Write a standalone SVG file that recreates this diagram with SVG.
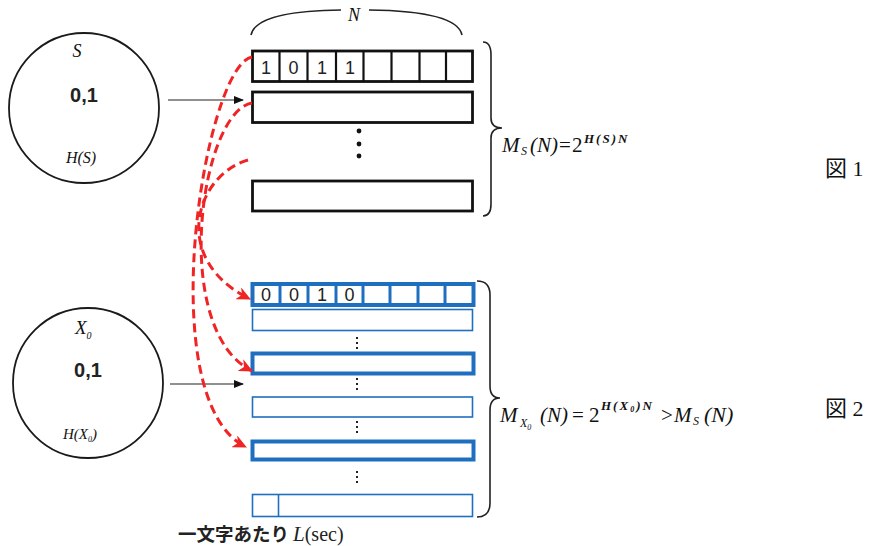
<svg xmlns="http://www.w3.org/2000/svg" width="872" height="546" viewBox="0 0 872 546">
<defs>
<style>
.bg{fill:#ffffff}
.circ{fill:none;stroke:#1a1a1a;stroke-width:1.8}
.brow{fill:#fff;stroke:#111;stroke-width:2.8}
.bk{fill:#fff;stroke:#1f6fc0;stroke-width:4}
.bt{fill:#fff;stroke:#1f6fc0;stroke-width:1.6}
.cell{stroke:#111;stroke-width:2.2}
.bcell{stroke:#1f6fc0;stroke-width:3}
.red{fill:none;stroke:#f02424;stroke-width:3;stroke-dasharray:9,5}
.arr{fill:none;stroke:#222;stroke-width:1.2}
.brace{fill:none;stroke:#222;stroke-width:1.6}
.dig{font-family:"Liberation Sans",Arial,sans-serif;font-size:18px;fill:#222;text-anchor:middle}
.math{font-family:"Liberation Serif","Times New Roman",serif;font-style:italic;fill:#111}
.up{font-family:"Liberation Serif","Times New Roman",serif;fill:#111}
.sup{font-family:"Liberation Serif","Times New Roman",serif;font-style:italic;font-weight:bold;font-size:13px;letter-spacing:2px;fill:#111}
.bold{font-family:"Liberation Sans",Arial,sans-serif;font-weight:bold;font-size:20px;fill:#222;text-anchor:middle}
.fig{font-family:"Liberation Serif","Noto Sans CJK JP",serif;font-size:22px;fill:#111}
.dot{stroke:#222;stroke-width:2;stroke-dasharray:2,3}
</style>
<marker id="ra" markerUnits="userSpaceOnUse" markerWidth="15" markerHeight="13" refX="13" refY="6.5" orient="auto">
<path d="M0,0 L14,6.5 L0,13 L4,6.5 z" fill="#f02424"/>
</marker>
<marker id="ka" markerUnits="userSpaceOnUse" markerWidth="10" markerHeight="8" refX="9" refY="4" orient="auto">
<path d="M0,0 L10,4 L0,8 z" fill="#111"/>
</marker>
</defs>
<rect class="bg" x="0" y="0" width="872" height="546"/>

<g id="sourceS">
<circle class="circ" cx="84" cy="108" r="75"/>
<text class="math" x="77" y="57" font-size="18" text-anchor="middle">S</text>
<text class="bold" x="84" y="102">0,1</text>
<text class="math" x="81" y="163" font-size="16" text-anchor="middle">H(S)</text>
</g>

<g id="sourceX0">
<circle class="circ" cx="88" cy="383" r="75"/>
<text class="math" x="75" y="334" font-size="19">X<tspan font-size="10" dy="5">0</tspan></text>
<text class="bold" x="88" y="377">0,1</text>
<text class="math" x="63" y="439" font-size="15">H(X<tspan font-size="8" dy="3">0</tspan><tspan dy="-3">)</tspan></text>
</g>

<g id="topTable">
<rect class="brow" x="252.5" y="51" width="220" height="30.5"/>
<line class="cell" x1="279.5" y1="51" x2="279.5" y2="81.5"/>
<line class="cell" x1="307.5" y1="51" x2="307.5" y2="81.5"/>
<line class="cell" x1="336" y1="51" x2="336" y2="81.5"/>
<line class="cell" x1="363.5" y1="51" x2="363.5" y2="81.5"/>
<line class="cell" x1="391.5" y1="51" x2="391.5" y2="81.5"/>
<line class="cell" x1="419.5" y1="51" x2="419.5" y2="81.5"/>
<line class="cell" x1="446" y1="51" x2="446" y2="81.5"/>
<text class="dig" x="266" y="74">1</text>
<text class="dig" x="293.5" y="74">0</text>
<text class="dig" x="322" y="74">1</text>
<text class="dig" x="350" y="74">1</text>
<rect class="brow" x="252.5" y="92" width="220" height="30.5"/>
<circle cx="359" cy="131" r="2.4" fill="#111"/>
<circle cx="359" cy="144" r="2.4" fill="#111"/>
<circle cx="359" cy="156" r="2.4" fill="#111"/>
<rect class="brow" x="252.5" y="181" width="220" height="30"/>
</g>

<g id="braceN">
<path class="brace" d="M251,35 Q256,11 341,10"/>
<path class="brace" d="M369,10 Q457,11 462,35"/>
<text class="math" x="354" y="21" font-size="18" text-anchor="middle">N</text>
</g>

<g id="braceTop">
<path class="brace" d="M483,42 Q491,42 491,55 L491,118 Q491,128 502,128 Q491,128 491,138 L491,204 Q491,216 483,216"/>
<text class="math" x="502" y="152" font-size="21">M</text>
<text class="math" x="521" y="155" font-size="12">S</text>
<text class="math" x="530" y="152" font-size="21">(N)</text>
<text class="up" x="559" y="152" font-size="21">=</text>
<text class="up" x="572" y="152" font-size="21">2</text>
<text class="sup" x="584" y="143">H(S)N</text>
</g>

<g id="bottomTable">
<rect class="bk" x="252.5" y="284" width="221" height="21"/>
<line class="bcell" x1="280" y1="284" x2="280" y2="305"/>
<line class="bcell" x1="308" y1="284" x2="308" y2="305"/>
<line class="bcell" x1="336" y1="284" x2="336" y2="305"/>
<line class="bcell" x1="363" y1="284" x2="363" y2="305"/>
<line class="bcell" x1="390" y1="284" x2="390" y2="305"/>
<line class="bcell" x1="418" y1="284" x2="418" y2="305"/>
<line class="bcell" x1="445" y1="284" x2="445" y2="305"/>
<text class="dig" x="266" y="301">0</text>
<text class="dig" x="294" y="301">0</text>
<text class="dig" x="322" y="301">1</text>
<text class="dig" x="349.5" y="301">0</text>
<rect class="bt" x="252.5" y="309.5" width="220" height="21"/>
<line class="dot" x1="357" y1="337" x2="357" y2="351"/>
<rect class="bk" x="252.5" y="353.5" width="221" height="20"/>
<line class="dot" x1="357" y1="378" x2="357" y2="392"/>
<rect class="bt" x="252.5" y="397" width="220" height="20"/>
<line class="dot" x1="357" y1="421" x2="357" y2="435"/>
<rect class="bk" x="252.5" y="441.5" width="221" height="18"/>
<line class="dot" x1="357" y1="471" x2="357" y2="485"/>
<rect class="bt" x="252.5" y="494.5" width="220" height="22"/>
<line class="bt" x1="278.5" y1="494.5" x2="278.5" y2="516.5"/>
</g>

<g id="braceBottom">
<path class="brace" d="M477,281 Q490,281 490,295 L490,386 Q490,398 500,398 Q490,398 490,410 L490,503 Q490,517 477,517"/>
<text class="math" x="500" y="422" font-size="21">M</text>
<text class="math" x="520" y="427" font-size="12">X<tspan font-size="8" dy="3">0</tspan></text>
<text class="math" x="540" y="422" font-size="21">(N)</text>
<text class="up" x="572" y="422" font-size="21">=</text>
<text class="up" x="589" y="422" font-size="21">2</text>
<text class="sup" x="601" y="410">H(X<tspan font-size="8" dy="2">0</tspan><tspan dy="-2">)N</tspan></text>
<text class="up" x="661" y="422" font-size="21">&gt;</text>
<text class="math" x="674" y="422" font-size="21">M</text>
<text class="math" x="693" y="425" font-size="12">S</text>
<text class="math" x="704" y="422" font-size="22">(N)</text>
</g>

<g id="labels">
<text class="fig" x="825" y="176">図 1</text>
<text class="fig" x="825" y="416">図 2</text>
<text x="178" y="541" font-family="'Noto Sans CJK JP',sans-serif" font-size="18.5" font-weight="bold" fill="#222">一文字あたり<tspan font-family="'Liberation Serif',serif" font-style="italic" font-weight="normal" font-size="21" dx="4">L</tspan><tspan font-family="'Liberation Serif',serif" font-weight="normal" font-size="20">(sec)</tspan></text>
</g>

<g id="connectors">
<line class="arr" x1="168" y1="100" x2="243" y2="100" marker-end="url(#ka)"/>
<line class="arr" x1="170" y1="384" x2="243" y2="384" marker-end="url(#ka)"/>
<path class="red" d="M248,160 C195,175 170,260 250,299" marker-end="url(#ra)"/>
<path class="red" d="M252,103 C200,112 170,330 252,371" marker-end="url(#ra)"/>
<path class="red" d="M252,57 C205,65 150,400 246,447" marker-end="url(#ra)"/>
</g>
</svg>
